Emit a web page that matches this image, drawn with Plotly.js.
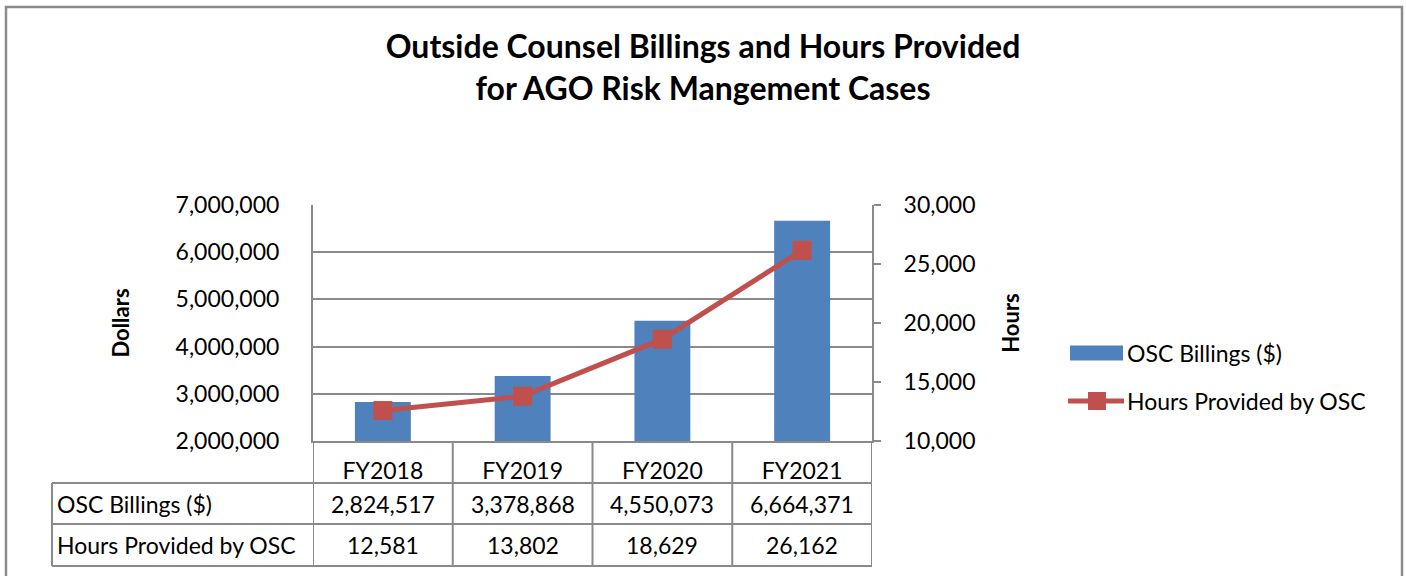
<!DOCTYPE html>
<html>
<head>
<meta charset="utf-8">
<script src="https://cdn.plot.ly/plotly-3.0.1.min.js"></script>
<style>html,body{margin:0;padding:0;background:#fff;}#chart{width:1406px;height:576px;}</style>
</head>
<body>
<div id="chart"></div>
<script>
// ---- data ----
var categories = ['FY2018', 'FY2019', 'FY2020', 'FY2021'];
var billings = [2824517, 3378868, 4550073, 6664371];
var hours = [12581, 13802, 18629, 26162];
var seriesNames = ['OSC Billings ($)', 'Hours Provided by OSC'];
var chartTitle = 'Outside Counsel Billings and Hours Provided<br>for AGO Risk Mangement Cases';
var yTitleLeft = 'Dollars';
var yTitleRight = 'Hours';

// ---- layout geometry (pixels) ----
var WIDTH = 1406, HEIGHT = 576;
var M = {l: 313, r: 534, t: 205, b: 135};
var PW = WIDTH - M.l - M.r, PH = HEIGHT - M.t - M.b;
function px2x(X) { return (X - M.l) / PW; }
function px2y(Y) { return (HEIGHT - M.b - Y) / PH; }

var FONT = 'Lato, "Open Sans", sans-serif';
var GRAY = '#8a8a8a';
var BLUE = '#4F81BD';
var RED = '#C0504D';

var traces = [
  {
    type: 'bar', x: categories, y: billings, name: seriesNames[0],
    width: 0.4, marker: {color: BLUE}, yaxis: 'y', showlegend: false, hoverinfo: 'skip'
  },
  {
    type: 'scatter', mode: 'lines+markers', x: categories, y: hours, name: seriesNames[1],
    yaxis: 'y2', line: {color: RED, width: 5},
    marker: {symbol: 'square', size: 19, color: RED}, showlegend: false, hoverinfo: 'skip'
  }
];

// table geometry
var rowLines = [483, 524, 566];
var tableLeft = 52, tableRight = 872, axisY = 441;
var shapes = [];
// outer border
shapes.push({type: 'rect', xref: 'paper', yref: 'paper', x0: px2x(6), x1: px2x(1402), y0: px2y(7), y1: px2y(640),
  line: {color: GRAY, width: 2.5}, layer: 'below'});
rowLines.forEach(function (Y) {
  shapes.push({type: 'line', xref: 'paper', yref: 'paper', x0: px2x(tableLeft), x1: px2x(tableRight), y0: px2y(Y), y1: px2y(Y),
    line: {color: GRAY, width: 2}});
});
shapes.push({type: 'line', xref: 'paper', yref: 'paper', x0: px2x(tableLeft), x1: px2x(tableLeft), y0: px2y(rowLines[0]), y1: px2y(rowLines[2]),
  line: {color: GRAY, width: 2}});
for (var i = 0; i <= categories.length; i++) {
  shapes.push({type: 'line', xref: 'x', yref: 'paper', x0: i - 0.5, x1: i - 0.5, y0: px2y(axisY), y1: px2y(rowLines[2]),
    line: {color: GRAY, width: 2}});
}

// custom legend (symbols)
var LG = {x0: 1070, x1: 1123, textX: 1127, y1: 353, y2: 401};
shapes.push({type: 'rect', xref: 'paper', yref: 'paper', x0: px2x(LG.x0), x1: px2x(LG.x1), y0: px2y(LG.y1 - 7.5), y1: px2y(LG.y1 + 7.5),
  fillcolor: BLUE, line: {width: 0}});
shapes.push({type: 'line', xref: 'paper', yref: 'paper', x0: px2x(LG.x0 - 2), x1: px2x(LG.x1 + 1), y0: px2y(LG.y2), y1: px2y(LG.y2),
  line: {color: RED, width: 5}});
shapes.push({type: 'rect', xref: 'paper', yref: 'paper', x0: px2x(1088), x1: px2x(1106), y0: px2y(LG.y2 - 9), y1: px2y(LG.y2 + 9),
  fillcolor: RED, line: {width: 0}});

var annotations = [];
[LG.y1, LG.y2].forEach(function (Y, k) {
  annotations.push({xref: 'paper', yref: 'paper', x: px2x(LG.textX - 2), y: px2y(Y), xanchor: 'left', yanchor: 'middle',
    text: seriesNames[k], showarrow: false, font: {family: FONT, size: 23, color: '#000'}});
});
var rowsData = [billings, hours];
var rowCenters = [(rowLines[0] + rowLines[1]) / 2, (rowLines[1] + rowLines[2]) / 2];
rowsData.forEach(function (arr, r) {
  annotations.push({xref: 'paper', yref: 'paper', x: px2x(tableLeft + 3), y: px2y(rowCenters[r]), xanchor: 'left', yanchor: 'middle',
    text: seriesNames[r], showarrow: false, font: {family: FONT, size: 23, color: '#000'}});
  arr.forEach(function (v, c) {
    annotations.push({xref: 'x', yref: 'paper', x: c, y: px2y(rowCenters[r]), xanchor: 'center', yanchor: 'middle',
      text: v.toLocaleString('en-US'), showarrow: false, font: {family: FONT, size: 23, color: '#000'}});
  });
});

var layout = {
  width: WIDTH, height: HEIGHT,
  margin: M,
  paper_bgcolor: '#fff', plot_bgcolor: '#fff',
  showlegend: false,
  title: {
    text: chartTitle, xref: 'container', x: 0.5, xanchor: 'center',
    yref: 'container', y: 1 - 58 / HEIGHT, yanchor: 'top',
    font: {family: FONT, size: 32, color: '#000', weight: 'bold'}
  },
  font: {family: FONT, size: 23, color: '#000'},
  xaxis: {
    type: 'category', range: [-0.5, 3.5], showline: true, linecolor: GRAY, linewidth: 2,
    ticks: '', showgrid: false, tickfont: {family: FONT, size: 23, color: '#000'}, ticklabelstandoff: 8,
    fixedrange: true
  },
  yaxis: {
    range: [2000000, 7000000], dtick: 1000000, tickformat: ',d',
    showline: true, linecolor: GRAY, linewidth: 2, showgrid: true, gridcolor: GRAY, gridwidth: 2,
    zeroline: false, ticks: '', ticklabelstandoff: 27,
    tickfont: {family: FONT, size: 23, color: '#000'},
    title: {text: yTitleLeft, standoff: 40, font: {family: FONT, size: 22, color: '#000', weight: 'bold'}},
    fixedrange: true
  },
  yaxis2: {
    overlaying: 'y', side: 'right', range: [10000, 30000], dtick: 5000, tickformat: ',d',
    showline: true, linecolor: GRAY, linewidth: 2, showgrid: false, zeroline: false,
    ticks: 'outside', ticklen: 7, tickwidth: 2, tickcolor: GRAY, ticklabelstandoff: 18,
    tickfont: {family: FONT, size: 23, color: '#000'},
    title: {text: yTitleRight, standoff: 29, font: {family: FONT, size: 22, color: '#000', weight: 'bold'}},
    fixedrange: true
  },
  shapes: shapes,
  annotations: annotations
};

Plotly.newPlot('chart', traces, layout, {displayModeBar: false, staticPlot: true});
</script>
</body>
</html>
